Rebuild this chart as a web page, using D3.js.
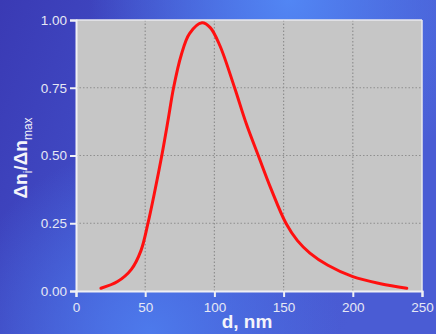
<!DOCTYPE html>
<html><head><meta charset="utf-8">
<script src="https://cdn.jsdelivr.net/npm/d3@7"></script>
<style>html,body{margin:0;padding:0;overflow:hidden;}svg{display:block;}</style>
</head><body>
<script>
const dValues = [18, 30, 40, 47, 52, 57, 62, 66.5, 70.5, 76, 82, 91, 97, 104, 114.6, 123, 131.7, 141, 151.7, 160, 169, 182, 200, 220, 239];
const nValues = [0.01, 0.035, 0.08, 0.15, 0.25, 0.37, 0.5, 0.63, 0.75, 0.87, 0.95, 0.99, 0.972, 0.905, 0.75, 0.618, 0.5, 0.376, 0.25, 0.186, 0.14, 0.095, 0.053, 0.027, 0.01];
const xTicks = [0, 50, 100, 150, 200, 250];
const yTicks = [0, 0.25, 0.5, 0.75, 1.0];

const W = 436, H = 334;
const m = {l: 76, r: 14, t: 20, b: 43};
const svg = d3.select("body").append("svg").attr("width", W).attr("height", H);
const defs = svg.append("defs");
const lg = defs.append("linearGradient").attr("id","base").attr("x1","0").attr("y1","0").attr("x2","1").attr("y2","0.3");
lg.append("stop").attr("offset","0").attr("stop-color","#3a3ab4");
lg.append("stop").attr("offset","0.5").attr("stop-color","#4352cc");
lg.append("stop").attr("offset","1").attr("stop-color","#4a5cd4");
const r1 = defs.append("radialGradient").attr("id","hl1").attr("gradientUnits","userSpaceOnUse").attr("cx",290).attr("cy",0).attr("r",200);
r1.append("stop").attr("offset","0").attr("stop-color","#5286f4").attr("stop-opacity",1);
r1.append("stop").attr("offset","1").attr("stop-color","#5286f4").attr("stop-opacity",0);
const r2 = defs.append("radialGradient").attr("id","hl2").attr("gradientUnits","userSpaceOnUse").attr("cx",150).attr("cy",334).attr("r",190);
r2.append("stop").attr("offset","0").attr("stop-color","#4d7aec").attr("stop-opacity",1);
r2.append("stop").attr("offset","1").attr("stop-color","#4d7aec").attr("stop-opacity",0);
svg.append("rect").attr("width",W).attr("height",H).attr("fill","url(#base)");
svg.append("rect").attr("width",W).attr("height",H).attr("fill","url(#hl1)");
svg.append("rect").attr("width",W).attr("height",H).attr("fill","url(#hl2)");

const x = d3.scaleLinear().domain([0,250]).range([m.l, W-m.r]);
const y = d3.scaleLinear().domain([0,1]).range([H-m.b, m.t]);

svg.append("rect").attr("x",x(0)).attr("y",y(1)).attr("width",x(250)-x(0)).attr("height",y(0)-y(1))
  .attr("fill","#c6c6c6");

// grid
const grid = svg.append("g");
grid.selectAll("line.v").data(xTicks.filter(t=>t>0 && t<250)).join("line")
  .attr("x1",d=>x(d)).attr("x2",d=>x(d)).attr("y1",y(0)).attr("y2",y(1))
  .attr("stroke","#8f8f8f").attr("stroke-width",1.2).attr("stroke-dasharray","1.5,2");
grid.selectAll("line.h").data(yTicks.filter(t=>t>0 && t<1)).join("line")
  .attr("x1",x(0)).attr("x2",x(250)).attr("y1",d=>y(d)).attr("y2",d=>y(d))
  .attr("stroke","#8f8f8f").attr("stroke-width",1.2).attr("stroke-dasharray","1.5,2");
// frame top & right
svg.append("line").attr("x1",x(0)).attr("x2",x(250)).attr("y1",y(1)).attr("y2",y(1)).attr("stroke","#e8e8ee").attr("stroke-width",1.5);
svg.append("line").attr("x1",x(250)).attr("x2",x(250)).attr("y1",y(1)).attr("y2",y(0)).attr("stroke","#e8e8ee").attr("stroke-width",1.5);

// curve
const data = dValues.map((d,i)=>[d, nValues[i]]);
svg.append("path").datum(data)
  .attr("d", d3.line().x(d=>x(d[0])).y(d=>y(d[1])).curve(d3.curveCatmullRom.alpha(0.5)))
  .attr("fill","none").attr("stroke","#ff1010").attr("stroke-width",3).attr("stroke-linecap","round");

// axes
const ax = svg.append("g").attr("transform",`translate(0,${y(0)})`)
  .call(d3.axisBottom(x).tickValues(xTicks).tickFormat(d3.format("d")).tickSize(6).tickPadding(3));
const ay = svg.append("g").attr("transform",`translate(${x(0)},0)`)
  .call(d3.axisLeft(y).tickValues(yTicks).tickFormat(d3.format(".2f")).tickSize(6).tickPadding(3));
[ax, ay].forEach(a=>{
  a.select(".domain").attr("stroke","#f0f0f4").attr("stroke-width",2);
  a.selectAll(".tick line").attr("stroke","#f0f0f4").attr("stroke-width",2);
  a.selectAll(".tick text").attr("fill","#e6e8f4").attr("font-family","Arial, 'Liberation Sans', sans-serif").attr("font-size",13.5);
});
ax.selectAll(".tick text").attr("dy","0.9em");

// axis titles
svg.append("text").attr("x", 247).attr("y", 328).attr("text-anchor","middle")
  .attr("fill","#f4f4fa").attr("font-family","Arial, 'Liberation Sans', sans-serif")
  .attr("font-weight","bold").attr("font-size",19).text("d, nm");

const yt = svg.append("text").attr("transform","translate(27,158) rotate(-90)").attr("text-anchor","middle")
  .attr("fill","#f4f4fa").attr("font-family","Arial, 'Liberation Sans', sans-serif")
  .attr("font-weight","bold").attr("font-size",19);
yt.append("tspan").text("Δn");
yt.append("tspan").attr("font-size",12).attr("dy",5).attr("font-weight","normal").text("i");
yt.append("tspan").attr("dy",-5).text("/Δn");
yt.append("tspan").attr("font-size",12).attr("dy",5).attr("font-weight","normal").text("max");
</script>
</body></html>
